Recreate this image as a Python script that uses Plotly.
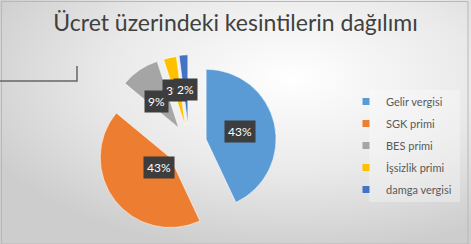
import math
import base64
import plotly.graph_objects as go

# ---- data ----
labels = ["Gelir vergisi", "SGK primi", "BES primi", "İşsizlik primi", "damga vergisi"]
values = [43, 43, 9, 3, 2]
colors = ["#5B9BD5", "#ED7D31", "#A5A5A5", "#FFC000", "#4472C4"]
pulls = [0.25, 0.34, 0.26, 0.25, 0.26]
title_text = "Ücret üzerindeki kesintilerin dağılımı"

W, H = 471, 244
FONT = "Lato"

# pie geometry (pixels)
cx, cy, r = 189.0, 143.0, 70.0
half = r * (1 + max(pulls))
dom_x = [(cx - half) / W, (cx + half) / W]
dom_y = [1 - (cy + half) / H, 1 - (cy - half) / H]

fig = go.Figure()
fig.add_trace(go.Pie(
    labels=labels, values=values, sort=False, direction="clockwise", rotation=0,
    pull=pulls, marker=dict(colors=colors, line=dict(color="rgba(255,255,255,0.6)", width=1)),
    textinfo="none", hoverinfo="label+percent", showlegend=False,
    domain=dict(x=dom_x, y=dom_y),
))

# legend entries (small square markers)
for i, (lab, col) in enumerate(zip(labels, colors)):
    fig.add_trace(go.Scatter(
        x=[None], y=[None], mode="markers", name=lab, legendgroup=f"g{i}",
        marker=dict(symbol="square", size=7, color=col),
    ))

# data labels (computed from slice angles)
total = sum(values)
label_ann = []
cum = 0.0
for i, v in enumerate(values):
    mid = (cum + v / 2) / total * 2 * math.pi
    cum += v
    d = pulls[i] * r + 0.5 * r
    px = cx + d * math.sin(mid)
    py = cy - d * math.cos(mid)
    label_ann.append(dict(
        x=px / W, y=1 - py / H, xref="paper", yref="paper",
        text=f"{round(v / total * 100)}%", showarrow=False,
        font=dict(family=FONT, size=12, color="white"),
        bgcolor="#3d3d3d", borderpad=3,
        xshift={2: -3, 3: -3}.get(i, 0),
        yshift={2: -3, 3: 1}.get(i, 0),
    ))
# draw order: small overlapping labels first, BES label on top
annotations = [label_ann[k] for k in (0, 1, 3, 4, 2)]

svg = (f"<svg xmlns='http://www.w3.org/2000/svg' width='{W}' height='{H}' preserveAspectRatio='none'>"
       "<defs><radialGradient id='g' cx='0.62' cy='0.32' r='0.72'>"
       "<stop offset='0' stop-color='#ffffff'/><stop offset='0.55' stop-color='#e9e9e9'/>"
       "<stop offset='1' stop-color='#cdcdcd'/></radialGradient></defs>"
       f"<rect width='{W}' height='{H}' fill='url(#g)'/></svg>")
bg = "data:image/svg+xml;base64," + base64.b64encode(svg.encode()).decode()

shapes = [
    dict(type="rect", xref="paper", yref="paper", x0=1.5 / W, x1=1 - 3 / W, y0=0, y1=1 - 1.5 / H,
         line=dict(color="#b8b8b8", width=1)),
    dict(type="path", xref="paper", yref="paper",
         path=f"M 0,{1 - 81 / H} L {77 / W},{1 - 81 / H} L {77 / W},{1 - 66 / H}",
         line=dict(color="#666666", width=1.5)),
    dict(type="rect", xref="paper", yref="paper", layer="below",
         x0=369 / W, x1=460 / W, y0=1 - 202 / H, y1=1 - 90 / H,
         fillcolor="rgba(255,255,255,0.3)", line=dict(width=0)),
]

fig.update_layout(
    width=W, height=H, margin=dict(l=0, r=0, t=0, b=0),
    paper_bgcolor="#e2e2e2", plot_bgcolor="rgba(0,0,0,0)",
    images=[dict(source=bg, xref="paper", yref="paper", x=0, y=1, sizex=1, sizey=1,
                 sizing="stretch", layer="below", xanchor="left", yanchor="top")],
    title=dict(text=title_text, x=0.5, xanchor="center", y=1 - 23 / H, yanchor="middle",
               font=dict(family=FONT, size=23, color="#404040")),
    xaxis=dict(visible=False), yaxis=dict(visible=False),
    legend=dict(x=346 / W, y=1 - 87 / H, xanchor="left", yanchor="top",
                traceorder="grouped", tracegroupgap=3,
                font=dict(family=FONT, size=11, color="#595959"),
                bgcolor="rgba(0,0,0,0)"),
    annotations=annotations, shapes=shapes,
)

fig.write_html("out.html")
